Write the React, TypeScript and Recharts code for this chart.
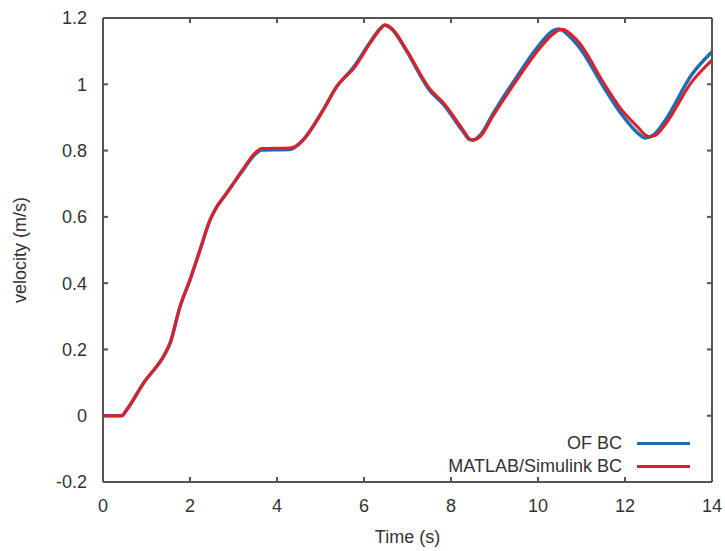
import React from 'react';
import { LineChart, Line, XAxis, YAxis, Legend } from 'recharts';

// sampled time instants (s)
const times = [
  0, 0.43, 0.54, 0.93, 1.43, 1.54, 1.77, 2.0, 2.23, 2.46, 2.57, 2.84, 3.23, 3.49, 3.65, 4.3,
  4.41, 4.6, 5.06, 5.4, 5.55, 5.75, 6.14, 6.4, 6.48, 6.56, 6.67, 6.98, 7.52, 7.82, 8.28, 8.42,
  8.5, 8.58, 8.67, 8.97, 9.5, 10.05, 10.35, 10.47, 10.57, 10.7, 10.93, 11.54, 11.93, 12.3, 12.46,
  12.57, 12.7, 12.92, 13.54, 14,
];

// OF BC velocity (m/s)
const ofBC = [
  0, 0, 0.017, 0.098, 0.188, 0.218, 0.329, 0.41, 0.5, 0.59, 0.62, 0.671, 0.743, 0.788, 0.802, 0.803,
  0.81, 0.832, 0.922, 0.998, 1.02, 1.05, 1.127, 1.172, 1.179, 1.174, 1.162, 1.1, 0.98, 0.94, 0.857, 0.834,
  0.832, 0.836, 0.846, 0.912, 1.02, 1.122, 1.162, 1.167, 1.162, 1.148, 1.115, 0.985, 0.908, 0.852, 0.838,
  0.841, 0.852, 0.89, 1.03, 1.098,
];

// MATLAB/Simulink BC velocity (m/s)
const matlabBC = [
  0, 0, 0.017, 0.098, 0.188, 0.218, 0.329, 0.41, 0.5, 0.59, 0.62, 0.671, 0.746, 0.792, 0.806, 0.808,
  0.812, 0.832, 0.922, 0.998, 1.02, 1.045, 1.124, 1.17, 1.179, 1.176, 1.164, 1.103, 0.985, 0.945, 0.862, 0.836,
  0.832, 0.834, 0.842, 0.905, 1.01, 1.11, 1.152, 1.163, 1.166, 1.157, 1.128, 0.998, 0.922, 0.87, 0.848,
  0.842, 0.846, 0.878, 1.008, 1.073,
];

const xTicks = [0, 2, 4, 6, 8, 10, 12, 14];
const yTicks = [-0.2, 0, 0.2, 0.4, 0.6, 0.8, 1, 1.2];

const seriesNames = ['OF BC', 'MATLAB/Simulink BC'];
const seriesColors = ['#1d6db3', '#e01f27'];

const data = times.map((t, i) => ({ t, of: ofBC[i], matlab: matlabBC[i] }));

const FONT = '"Liberation Sans", Arial, sans-serif';
const FS = 18;
const TEXT = '#333333';
const AXIS = '#555555';

const fmt = (v: number) => String(Math.round(v * 10) / 10);
const blank = () => '';

const renderLegend = () => (
  <div style={{ fontFamily: FONT, fontSize: FS, color: TEXT }}>
    {seriesNames.map((name, i) => (
      <div key={name} style={{ display: 'flex', alignItems: 'center', height: 23 }}>
        <div style={{ width: 222, textAlign: 'right', whiteSpace: 'nowrap', lineHeight: '23px' }}>{name}</div>
        <div style={{ width: 53, height: 3, marginLeft: 15, background: seriesColors[i] }} />
      </div>
    ))}
  </div>
);

const YLabel = (props: any) => {
  const vb = props.viewBox || {};
  const cy = (vb.y || 0) + (vb.height || 0) / 2;
  return (
    <text x={20} y={cy} transform={`rotate(-90, 20, ${cy})`} textAnchor="middle" dominantBaseline="central"
      fill={TEXT} fontSize={FS} fontFamily={FONT}>
      velocity (m/s)
    </text>
  );
};

export default function App() {
  return (
    <div style={{ position: 'absolute', left: 0, top: 0, background: '#fff' }}>
      <LineChart width={725} height={551} data={data} margin={{ top: 17, right: 12, left: 0, bottom: 0 }}>
        <XAxis
          dataKey="t" type="number" domain={[0, 14]} ticks={xTicks} height={69}
          stroke={AXIS} strokeWidth={2} tickSize={-5} tickMargin={22}
          tick={{ fill: TEXT, fontSize: FS, fontFamily: FONT }}
          label={{ value: 'Time (s)', position: 'insideBottom', offset: 8, fill: TEXT, fontSize: FS, fontFamily: FONT }}
        />
        <XAxis
          xAxisId="top" orientation="top" dataKey="t" type="number" domain={[0, 14]} ticks={xTicks} height={1}
          stroke={AXIS} strokeWidth={2} tickSize={-5} tickFormatter={blank}
        />
        <YAxis
          type="number" domain={[-0.2, 1.2]} ticks={yTicks} width={103}
          stroke={AXIS} strokeWidth={2} tickSize={-5} tickMargin={21} tickFormatter={fmt}
          tick={{ fill: TEXT, fontSize: FS, fontFamily: FONT }}
          label={{ content: YLabel }}
        />
        <YAxis
          yAxisId="right" orientation="right" type="number" domain={[-0.2, 1.2]} ticks={yTicks} width={1}
          stroke={AXIS} strokeWidth={2} tickSize={-5} tickFormatter={blank}
        />
        <Legend
          layout="horizontal" verticalAlign="middle" align="center" content={renderLegend}
          wrapperStyle={{ left: 400, top: 432, width: 300, height: 46 }}
        />
        {/* invisible series so the mirrored frame axes get drawn */}
        <Line xAxisId="top" yAxisId="right" dataKey="of" stroke="none" dot={false} legendType="none"
          isAnimationActive={false} />
        <Line dataKey="of" name={seriesNames[0]} type="monotone" stroke={seriesColors[0]} strokeWidth={3.5}
          dot={false} isAnimationActive={false} />
        <Line dataKey="matlab" name={seriesNames[1]} type="monotone" stroke={seriesColors[1]} strokeWidth={3}
          dot={false} isAnimationActive={false} />
      </LineChart>
    </div>
  );
}
